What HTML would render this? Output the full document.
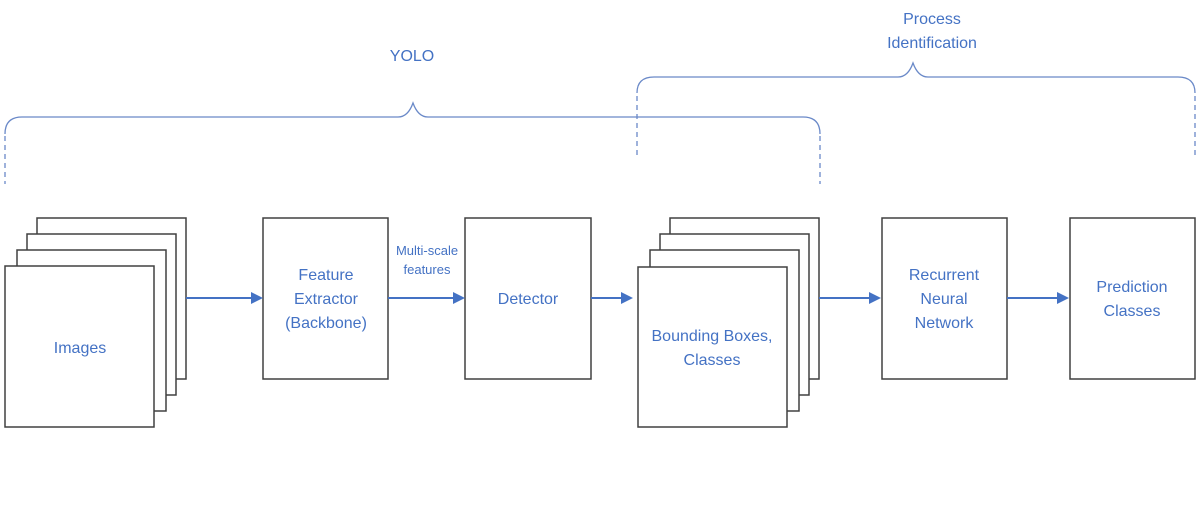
<!DOCTYPE html>
<html><head><style>body{margin:0;background:#fff}svg{display:block}</style></head><body>
<svg width="1200" height="528" viewBox="0 0 1200 528" xmlns="http://www.w3.org/2000/svg" font-family="Liberation Sans, sans-serif" fill="#4472C4">
<g fill="#fff" stroke="#404040" stroke-width="1.5">
<rect x="37" y="218" width="149" height="161"/>
<rect x="27" y="234" width="149" height="161"/>
<rect x="17" y="250" width="149" height="161"/>
<rect x="5" y="266" width="149" height="161"/>
<rect x="263" y="218" width="125" height="161"/>
<rect x="465" y="218" width="126" height="161"/>
<rect x="670" y="218" width="149" height="161"/>
<rect x="660" y="234" width="149" height="161"/>
<rect x="650" y="250" width="149" height="161"/>
<rect x="638" y="267" width="149" height="160"/>
<rect x="882" y="218" width="125" height="161"/>
<rect x="1070" y="218" width="125" height="161"/>
</g>
<g stroke="#4472C4" stroke-width="2">
<line x1="186" y1="298" x2="252" y2="298"/>
<line x1="388" y1="298" x2="454" y2="298"/>
<line x1="591" y1="298" x2="622" y2="298"/>
<line x1="819" y1="298" x2="870" y2="298"/>
<line x1="1007" y1="298" x2="1058" y2="298"/>
</g>
<g fill="#4472C4">
<polygon points="263,298 251,292 251,304"/>
<polygon points="465,298 453,292 453,304"/>
<polygon points="633,298 621,292 621,304"/>
<polygon points="881,298 869,292 869,304"/>
<polygon points="1069,298 1057,292 1057,304"/>
</g>
<g fill="none" stroke="#6a89c8" stroke-width="1.3">
<path d="M5,134 Q5,117 22,117 L398,117 Q408,117 413,103 Q418,117 428,117 L803,117 Q820,117 820,134"/>
<path d="M637,93 Q637,77 654,77 L898,77 Q908,77 913,63 Q918,77 928,77 L1178,77 Q1195,77 1195,93"/>
<g stroke-dasharray="5,4">
<line x1="5" y1="136" x2="5" y2="184"/>
<line x1="820" y1="136" x2="820" y2="184"/>
<line x1="637" y1="96" x2="637" y2="159"/>
<line x1="1195" y1="96" x2="1195" y2="159"/>
</g>
</g>
<g font-size="16" text-anchor="middle">
<text x="412" y="61">YOLO</text>
<text x="932" y="24">Process</text>
<text x="932" y="48">Identification</text>
<text x="80" y="353">Images</text>
<text x="326" y="280">Feature</text>
<text x="326" y="304">Extractor</text>
<text x="326" y="328">(Backbone)</text>
<text x="528" y="304">Detector</text>
<text x="712" y="341">Bounding Boxes,</text>
<text x="712" y="365">Classes</text>
<text x="944" y="280">Recurrent</text>
<text x="944" y="304">Neural</text>
<text x="944" y="328">Network</text>
<text x="1132" y="292">Prediction</text>
<text x="1132" y="316">Classes</text>
<text x="427" y="255" font-size="13">Multi-scale</text>
<text x="427" y="274" font-size="13">features</text>
</g>
</svg>
</body></html>
